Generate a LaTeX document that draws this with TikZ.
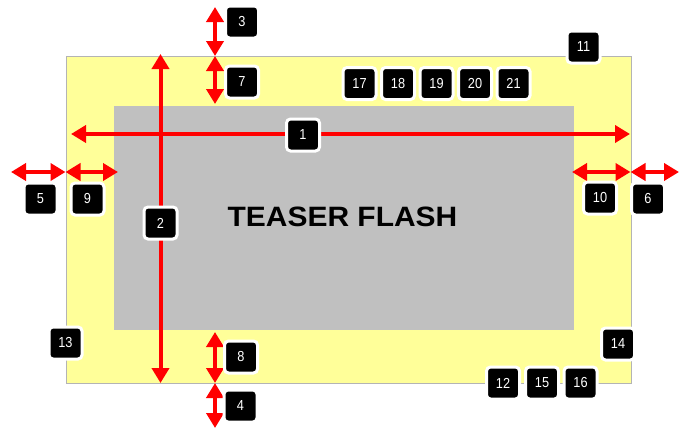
\documentclass[tikz,border=0pt]{standalone}
\usepackage{fontspec}
\setmainfont{Liberation Sans}
\newfontfamily\teaserfont{Liberation Sans}[FakeStretch=1.07]
\newfontfamily\numfont{Liberation Sans}[FakeStretch=0.88]
\usetikzlibrary{arrows.meta}
\definecolor{padyellow}{HTML}{FFFF99}
\definecolor{flashgray}{HTML}{C0C0C0}
\definecolor{framegray}{HTML}{B4B4B4}
\definecolor{dimred}{HTML}{FF0000}
\begin{document}
\begin{tikzpicture}[x=1pt,y=-1pt,
  numbox/.style={fill=black,draw=white,line width=3pt,rounded corners=4pt,
    minimum width=33pt,minimum height=32pt,inner sep=0pt,text=white,
    font=\numfont\fontsize{14.5}{14.5}\selectfont},
  dimarrow/.style={draw=dimred,line width=4pt,
    {Triangle[width=17pt,length=15pt]}-{Triangle[width=17pt,length=15pt]}}]
\useasboundingbox (0,0) rectangle (687,431);
% panels
\draw[fill=padyellow,draw=framegray,line width=1pt] (66,56) rectangle (631,383);
\fill[flashgray] (114,106) rectangle (574,330);
\node[font=\teaserfont\bfseries\fontsize{28}{28}\selectfont,text=black,inner sep=0pt] (teaser) at (342.5,216.5) {TEASER FLASH};
% coordinates
\coordinate (a1l) at (71,134);   \coordinate (a1r) at (630,134);
\coordinate (a2t) at (160.5,54); \coordinate (a2b) at (160.5,383);
\coordinate (t0) at (215,7);     \coordinate (t1) at (215,56);  \coordinate (t2) at (215,104);
\coordinate (b0) at (215,332);   \coordinate (b1) at (215,383); \coordinate (b2) at (215,428);
\coordinate (l0) at (11,172);    \coordinate (l1) at (65.5,172); \coordinate (l2) at (118,172);
\coordinate (r0) at (572,172);   \coordinate (r1) at (630.5,172); \coordinate (r2) at (679,172);
% arrows
\draw[dimarrow] (a1l) -- (a1r);
\draw[dimarrow] (a2t) -- (a2b);
\draw[dimarrow] (t0) -- (t1);
\draw[dimarrow] (t1) -- (t2);
\draw[dimarrow] (b0) -- (b1);
\draw[dimarrow] (b1) -- (b2);
\draw[dimarrow] (l0) -- (l1);
\draw[dimarrow] (l1) -- (l2);
\draw[dimarrow] (r0) -- (r1);
\draw[dimarrow] (r1) -- (r2);
% number boxes
\node[numbox] (n1) at (303,135) {1};
\node[numbox] (n2) at (160.5,223) {2};
\node[numbox] (n3) at (242,22) {3};
\node[numbox] (n4) at (240.5,406) {4};
\node[numbox] (n5) at (40.5,199) {5};
\node[numbox] (n6) at (648,199) {6};
\node[numbox] (n7) at (242,82) {7};
\node[numbox] (n8) at (241,357) {8};
\node[numbox] (n9) at (87.5,199) {9};
\node[numbox] (n10) at (600,198) {10};
\node[numbox] (n11) at (583.5,47) {11};
\node[numbox] (n12) at (503,383) {12};
\node[numbox] (n13) at (65.5,343) {13};
\node[numbox] (n14) at (618,344) {14};
\node[numbox] (n15) at (542,383) {15};
\node[numbox] (n16) at (580.5,383) {16};
\node[numbox] (n17) at (359.5,83.5) {17};
\node[numbox] (n18) at (398,83.5) {18};
\node[numbox] (n19) at (436.5,83.5) {19};
\node[numbox] (n20) at (475,83.5) {20};
\node[numbox] (n21) at (513.5,83.5) {21};
\end{tikzpicture}
\end{document}
